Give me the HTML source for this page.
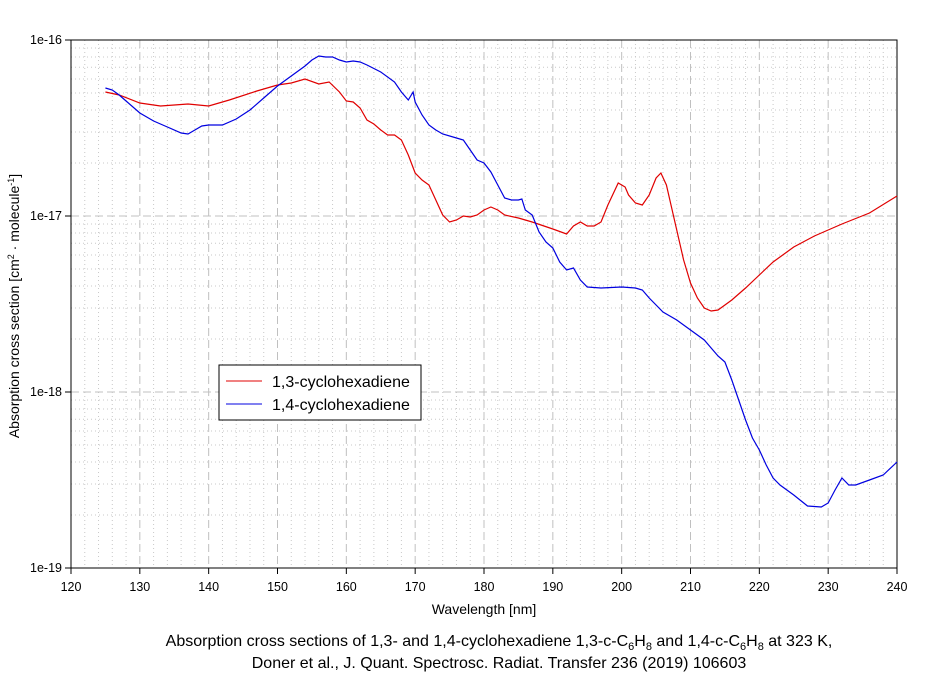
<!DOCTYPE html><html><head><style>body{margin:0;background:#fff}svg{font-family:"Liberation Sans",Arial,sans-serif}</style></head><body>
<svg width="937" height="676" xmlns="http://www.w3.org/2000/svg">
<g id="grid"></g>
<rect x="71" y="40" width="826" height="528" fill="none" stroke="#000"/>
<polyline id="r" fill="none" stroke="#e00000" stroke-width="1.2"/>
<polyline id="b" fill="none" stroke="#0000e0" stroke-width="1.2"/>
<g id="ax" font-size="12.5"></g>
<rect x="219" y="365" width="202" height="55" fill="#fff" stroke="#000"/>
<line x1="226" y1="381" x2="262" y2="381" stroke="#e00000"/>
<line x1="226" y1="404" x2="262" y2="404" stroke="#0000e0"/>
<text x="272" y="387" font-size="16">1,3-cyclohexadiene</text>
<text x="272" y="410" font-size="16">1,4-cyclohexadiene</text>
<text x="484" y="614" font-size="14" text-anchor="middle">Wavelength [nm]</text>
<text transform="translate(19,306) rotate(-90)" font-size="14" text-anchor="middle">Absorption cross section [cm<tspan dy="-5" font-size="9">2</tspan><tspan dy="5"> · molecule</tspan><tspan dy="-5" font-size="9">-1</tspan><tspan dy="5">]</tspan></text>
<text x="499" y="646" font-size="16" text-anchor="middle">Absorption cross sections of 1,3- and 1,4-cyclohexadiene 1,3-c-C<tspan dy="4" font-size="11">6</tspan><tspan dy="-4">H</tspan><tspan dy="4" font-size="11">8</tspan><tspan dy="-4"> and 1,4-c-C</tspan><tspan dy="4" font-size="11">6</tspan><tspan dy="-4">H</tspan><tspan dy="4" font-size="11">8</tspan><tspan dy="-4"> at 323 K,</tspan></text>
<text x="499" y="668" font-size="16" text-anchor="middle">Doner et al., J. Quant. Spectrosc. Radiat. Transfer 236 (2019) 106603</text>
</svg>
<script>
const X=n=>71+(n-120)*826/120;
let g='',a='';
for(let n=122;n<240;n+=2){const x=X(n);if(n%10==0)g+=`<line x1="${x}" y1="40" x2="${x}" y2="568" stroke="#c0c0c0" stroke-dasharray="8,4"/>`;else g+=`<line x1="${x}" y1="40" x2="${x}" y2="568" stroke="#c8c8c8" stroke-dasharray="1,3"/>`;}
for(let d=0;d<3;d++){for(let m=2;m<=10;m++){const y=568-176*d-176*Math.log10(m);if(m==10){if(d<2)g+=`<line x1="71" y1="${y}" x2="897" y2="${y}" stroke="#c0c0c0" stroke-dasharray="8,4"/>`;}else g+=`<line x1="71" y1="${y}" x2="897" y2="${y}" stroke="#c8c8c8" stroke-dasharray="1,3"/>`;}}
document.getElementById('grid').innerHTML=g;
for(let n=120;n<=240;n+=10){const x=X(n);a+=`<line x1="${x}" y1="568" x2="${x}" y2="574" stroke="#000"/><text x="${x}" y="591" text-anchor="middle">${n}</text>`;}
['1e-16','1e-17','1e-18','1e-19'].forEach((t,i)=>{const y=40+176*i;a+=`<line x1="65" y1="${y}" x2="71" y2="${y}" stroke="#000"/><text x="62" y="${y+4}" text-anchor="end">${t}</text>`;});
document.getElementById('ax').innerHTML=a;
const R=[[125,92],[127,95],[130,103],[133,106],[137,104],[140,106],[143,100],[147,91],[150,85],[152,83],[154,79],[156,84],[157.5,82],[159,92],[160,101],[161,102],[162,108],[163,120],[164,124],[165,130],[166,135],[167,135],[168,140],[169,155],[170,173],[171,180],[172,185],[173,200],[174,215],[175,222],[176,220],[177,216],[178,217],[179,215],[180,210],[181,207],[182,210],[183,215],[185,218],[187,222],[190,229],[192,234],[193,226],[194,222],[195,226],[196,226],[197,222],[198,205],[199.5,183],[200.5,187],[201,195],[202,203],[203,205],[204,195],[205,178],[205.7,173],[206.5,185],[207,200],[208,230],[209,260],[210,283],[211,298],[212,308],[213,311],[214,310],[216,300],[218,288],[220,275],[222,262],[225,247],[228,236],[232,224],[236,213],[240,196]];
const B=[[125,88],[126,90],[127,95],[128,101],[130,113],[132,121],[134,127],[136,133],[137,134],[138,130],[139,126],[140,125],[142,125],[144,119],[146,110],[148,98],[150,86],[152,76],[154,66],[155,60],[156,56],[157,57],[158,57],[159,60],[160,62],[161,61],[162,62],[163,65],[165,72],[167,82],[168,92],[169,100],[169.7,92],[170,102],[171,115],[172,125],[173,130],[174,134],[176,138],[177,140],[178,150],[179,160],[180,163],[181,172],[182,185],[183,198],[184,200],[185,200],[185.5,199],[186,210],[187,215],[188,232],[189,242],[190,248],[191,262],[192,270],[193,268],[194,280],[195,287],[197,288],[200,287],[202,288],[203,290],[204,298],[205,305],[206,312],[208,320],[210,330],[212,340],[213,348],[214,356],[215,362],[216,380],[217,400],[218,420],[219,438],[220,450],[221,465],[222,478],[223,485],[225,495],[227,506],[229,507],[230,503],[231,490],[232,478],[233,485],[234,485],[236,480],[238,475],[240,462]];
document.getElementById('r').setAttribute('points',R.map(p=>X(p[0])+','+p[1]).join(' '));
document.getElementById('b').setAttribute('points',B.map(p=>X(p[0])+','+p[1]).join(' '));
</script></body></html>
